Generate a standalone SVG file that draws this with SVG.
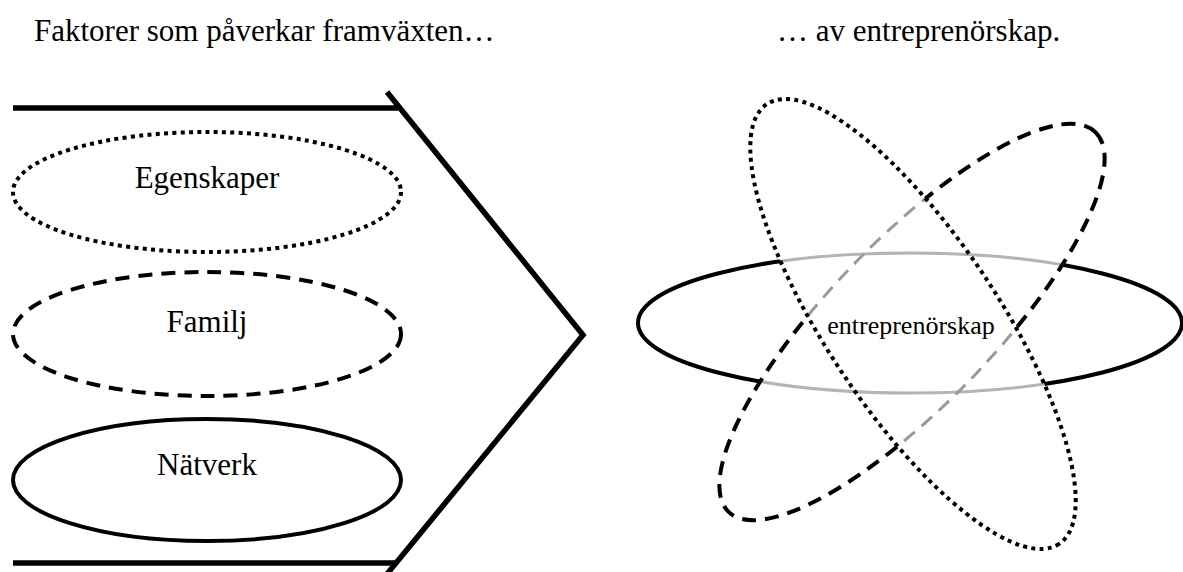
<svg xmlns="http://www.w3.org/2000/svg" width="1183" height="572" viewBox="0 0 1183 572">
<style>
text{font-family:"Liberation Serif","Times New Roman",serif;fill:#000}
.t{font-size:31px}
.lbl{font-size:31px;text-anchor:middle}
.ln{fill:none;stroke:#000;stroke-width:5.5;stroke-linecap:butt}
.dot{fill:none;stroke:#000;stroke-width:4;stroke-dasharray:4 4.3}
.dash{fill:none;stroke:#000;stroke-width:4;stroke-dasharray:14 9}
.solid{fill:none;stroke:#000;stroke-width:4}
.gsolid{fill:none;stroke:#b4b4b4;stroke-width:3}
.gdash{fill:none;stroke:#9a9a9a;stroke-width:3;stroke-dasharray:14 9}
</style>
<defs>
<ellipse id="eDot" cx="0" cy="0" rx="264" ry="86" transform="translate(913 324) rotate(56.4)"/>
<ellipse id="eDash" cx="0" cy="0" rx="264" ry="82" transform="translate(912 322) rotate(-46)"/>
<clipPath id="inDot"><use href="#eDot"/></clipPath>
<clipPath id="inUnion"><use href="#eDot"/><use href="#eDash"/></clipPath>
<mask id="outDot" maskUnits="userSpaceOnUse" x="0" y="0" width="1183" height="572">
<rect width="1183" height="572" fill="#fff"/><use href="#eDot" fill="#000"/>
</mask>
<mask id="outUnion" maskUnits="userSpaceOnUse" x="0" y="0" width="1183" height="572">
<rect width="1183" height="572" fill="#fff"/><use href="#eDot" fill="#000"/><use href="#eDash" fill="#000"/>
</mask>
</defs>
<rect width="1183" height="572" fill="#fff"/>
<text class="t" x="34" y="41">Faktorer som påverkar framväxten…</text>
<text class="t" x="777" y="41">… av entreprenörskap.</text>
<g id="chevron">
<path class="ln" d="M13 108H398"/>
<path class="ln" d="M13 563H396"/>
<path class="ln" d="M387 92L583 335L387 574"/>
</g>
<g id="egenskaper">
<ellipse class="dot" cx="207" cy="192" rx="194" ry="60"/>
<text class="lbl" x="207" y="188">Egenskaper</text>
</g>
<g id="familj">
<ellipse class="dash" cx="207" cy="334" rx="194" ry="62"/>
<text class="lbl" x="207" y="332">Familj</text>
</g>
<g id="natverk">
<ellipse class="solid" cx="207" cy="480" rx="194" ry="61"/>
<text class="lbl" x="207" y="475">Nätverk</text>
</g>
<g id="entreprenorskap">
<g id="orbit-solid">
<ellipse class="gsolid" cx="910" cy="323" rx="272" ry="70" clip-path="url(#inUnion)"/>
<ellipse class="solid" cx="910" cy="323" rx="272" ry="70" mask="url(#outUnion)"/>
</g>
<g id="orbit-dashed">
<use href="#eDash" class="gdash" clip-path="url(#inDot)"/>
<use href="#eDash" class="dash" mask="url(#outDot)"/>
</g>
<g id="orbit-dotted">
<use href="#eDot" class="dot"/>
</g>
<text x="911" y="334" style="font-size:26px;text-anchor:middle">entreprenörskap</text>
</g>
</svg>
